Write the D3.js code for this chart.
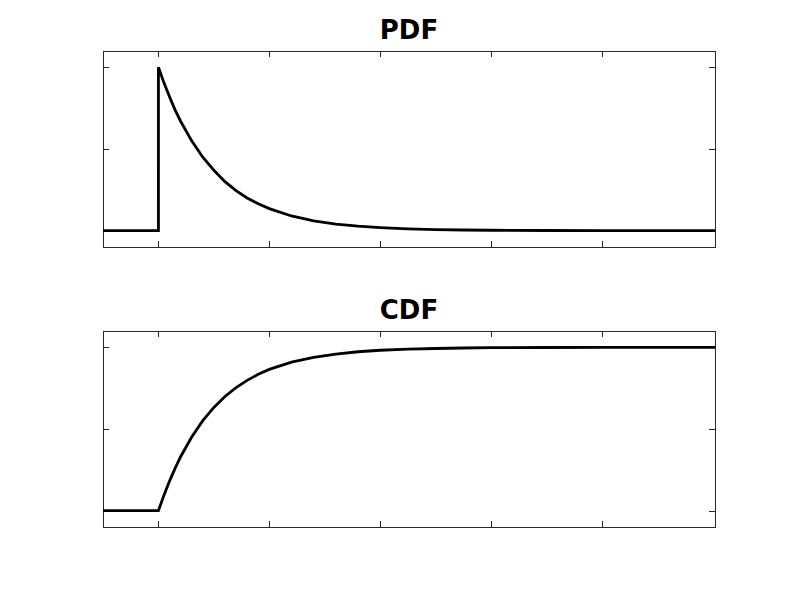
<!DOCTYPE html>
<html lang="en">
<head>
    <meta charset="UTF-8">
    <title>PDF and CDF</title>
    <script src="https://d3js.org/d3.v7.min.js"></script>
    <style>
        body { margin: 0; background: #fff; }
        .title { font-family: "DejaVu Sans", sans-serif; font-weight: bold; font-size: 26px; }
        .frame { fill: none; stroke: #262626; stroke-width: 1; }
        .tick { stroke: #262626; stroke-width: 1; }
        .curve { fill: none; stroke: #000; stroke-width: 2.8; stroke-linejoin: miter; }
    </style>
</head>
<body>
    <svg width="790" height="593"></svg>

    <script>
        // sample points
        const xs =      [-0.5, 0, 0,    0.05, 0.1,  0.15, 0.2,  0.3,  0.4,  0.5,  0.6,  0.7,  0.8,  0.9,  1.0,  1.2,  1.4,  1.6,  1.8,  2.0,  2.25, 2.5,  2.75, 3.0,  3.5,  4.0,  4.5,  5.02];
        const pdfVals = [0,    0, 2.0,  1.81, 1.64, 1.48, 1.34, 1.10, 0.90, 0.74, 0.60, 0.49, 0.40, 0.33, 0.27, 0.18, 0.12, 0.08, 0.055,0.037,0.022,0.013,0.008,0.005,0.002,0.001,0.0,  0.0];
        const cdfVals = [0,    0, 0,    0.095,0.181,0.259,0.330,0.451,0.551,0.632,0.699,0.753,0.798,0.835,0.865,0.909,0.939,0.959,0.973,0.982,0.989,0.993,0.996,0.998,0.999,1.0,  1.0,  1.0];
        const xTicks = [0, 1, 2, 3, 4];
        const pdfTicks = [0, 1, 2];
        const cdfTicks = [0, 0.5, 1];
        const titles = ["PDF", "CDF"];

        const svg = d3.select("svg");
        const left = 103, right = 715, h = 196;
        const panelTops = [51, 331];

        const x = d3.scaleLinear().domain([-0.5, 5.02]).range([left, right]);

        const panels = [
            { vals: pdfVals, ticks: pdfTicks, domain: [-0.2, 2.2] },
            { vals: cdfVals, ticks: cdfTicks, domain: [-0.1, 1.1] }
        ];

        panels.forEach((p, i) => {
            const top = panelTops[i];
            const y = d3.scaleLinear().domain(p.domain).range([top + h, top]);
            const g = svg.append("g");

            g.append("rect")
                .attr("class", "frame")
                .attr("x", left + 0.5).attr("y", top + 0.5)
                .attr("width", right - left).attr("height", h);

            // ticks inside on all four sides
            xTicks.forEach(t => {
                const px = Math.round(x(t)) + 0.5;
                g.append("line").attr("class", "tick")
                    .attr("x1", px).attr("x2", px).attr("y1", top).attr("y2", top + 6);
                g.append("line").attr("class", "tick")
                    .attr("x1", px).attr("x2", px).attr("y1", top + h).attr("y2", top + h - 6);
            });
            p.ticks.forEach(t => {
                const py = Math.round(y(t)) + 0.5;
                g.append("line").attr("class", "tick")
                    .attr("x1", left).attr("x2", left + 6).attr("y1", py).attr("y2", py);
                g.append("line").attr("class", "tick")
                    .attr("x1", right).attr("x2", right - 6).attr("y1", py).attr("y2", py);
            });

            const line = d3.line()
                .x((d, j) => x(xs[j]))
                .y(d => y(d));

            g.append("path")
                .datum(p.vals)
                .attr("class", "curve")
                .attr("d", line);

            g.append("text")
                .attr("class", "title")
                .attr("x", (left + right) / 2)
                .attr("y", top - 12)
                .attr("text-anchor", "middle")
                .text(titles[i]);
        });
    </script>
</body>
</html>
